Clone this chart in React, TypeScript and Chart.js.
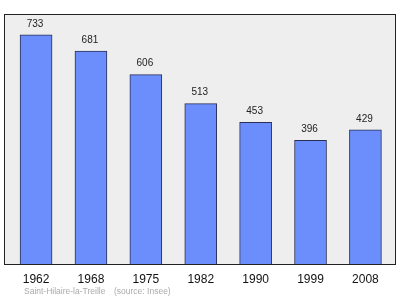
import React, { useEffect, useRef } from 'react';
import { Chart, registerables } from 'chart.js';

Chart.register(...registerables);

const years = ['1962', '1968', '1975', '1982', '1990', '1999', '2008'];
const population = [733, 681, 606, 513, 453, 396, 429];
const footerName = 'Saint-Hilaire-la-Treille';
const footerSource = '(source: Insee)';

const FONT = '"Liberation Sans", Arial, sans-serif';

export default function App() {
  const ref = useRef<HTMLCanvasElement>(null);

  useEffect(() => {
    document.body.style.margin = '0';
    const canvas = ref.current;
    if (!canvas) return;

    const framePlugin = {
      id: 'plotFrame',
      beforeDatasetsDraw(chart: any) {
        const { ctx, chartArea: a } = chart;
        ctx.save();
        ctx.fillStyle = '#eeeeee';
        ctx.fillRect(a.left, a.top, a.right - a.left, a.bottom - a.top);
        ctx.restore();
      },
      afterDatasetsDraw(chart: any) {
        const { ctx, chartArea: a } = chart;
        ctx.save();
        ctx.strokeStyle = '#222222';
        ctx.lineWidth = 1;
        ctx.strokeRect(a.left + 0.5, a.top + 0.5, a.right - a.left - 1, a.bottom - a.top);
        // value labels
        const meta = chart.getDatasetMeta(0);
        ctx.fillStyle = '#222222';
        ctx.font = '10px ' + FONT;
        ctx.textAlign = 'center';
        ctx.textBaseline = 'middle';
        meta.data.forEach((bar: any, i: number) => {
          ctx.fillText(String(population[i]), bar.x - 1, bar.y - 11);
        });
        ctx.restore();
      },
      afterDraw(chart: any) {
        const { ctx } = chart;
        ctx.save();
        ctx.fillStyle = '#aaaaaa';
        ctx.font = '8.5px ' + FONT;
        ctx.textAlign = 'left';
        ctx.textBaseline = 'middle';
        ctx.fillText(footerName, 24, 292);
        ctx.fillText(footerSource, 114, 292);
        ctx.restore();
      },
    };

    const chart = new Chart(canvas, {
      type: 'bar',
      data: {
        datasets: [
          {
            data: population.map((v, i) => ({ x: i, y: v })),
            backgroundColor: 'rgb(108,142,252)',
            borderColor: '#2b2f55',
            borderWidth: 1,
            barThickness: 32,
          },
        ],
      },
      options: {
        responsive: false,
        animation: false,
        devicePixelRatio: 1,
        layout: { padding: { left: 4, right: 4, top: 14, bottom: 0 } },
        plugins: { legend: { display: false }, tooltip: { enabled: false } },
        scales: {
          x: {
            type: 'linear',
            min: -0.584,
            max: 6.557,
            offset: false,
            grid: { display: false, drawTicks: false, offset: false },
            border: { display: false },
            afterBuildTicks: (scale: any) => {
              scale.ticks = years.map((_, i) => ({ value: i }));
            },
            afterFit: (scale: any) => {
              scale.height = 35;
            },
            ticks: {
              autoSkip: false,
              maxRotation: 0,
              padding: 8,
              color: '#111111',
              font: { size: 12, family: FONT },
              callback: (v: any) => years[v as number] ?? '',
            },
          },
          y: {
            display: false,
            min: 0,
            max: 800,
          },
        },
      },
      plugins: [framePlugin],
    });

    return () => chart.destroy();
  }, []);

  return <canvas ref={ref} width={400} height={299} style={{ display: 'block' }} />;
}
